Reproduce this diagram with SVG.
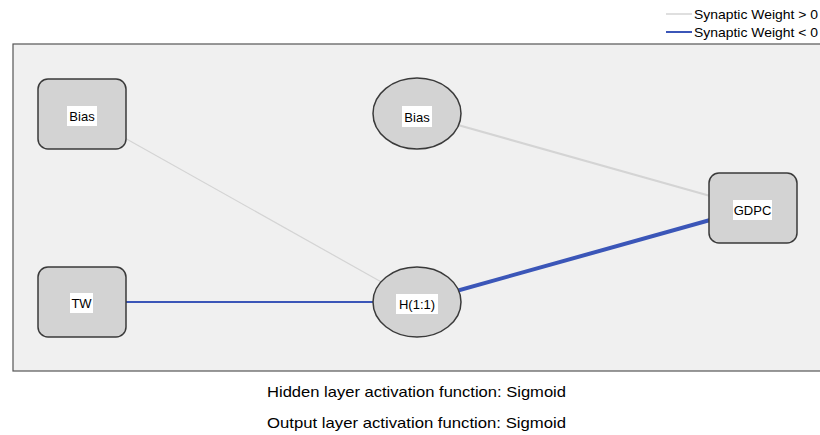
<svg xmlns="http://www.w3.org/2000/svg" width="820" height="435" viewBox="0 0 820 435">
<style>
text{font-family:"Liberation Sans",Arial,sans-serif;fill:#000}
.node{fill:#d3d3d3;stroke:#3a3a3a;stroke-width:1.5}
.lbl{fill:#fff}
.nl{font-size:13px;text-anchor:middle}
.pos{stroke:#d4d4d4;fill:none}
.neg{stroke:#3b56b8;fill:none}
</style>
<rect x="0" y="0" width="820" height="435" fill="#fff"/>
<g id="legend">
<line class="pos" x1="666" y1="14" x2="692" y2="14" stroke-width="1.5"/>
<line class="neg" x1="666" y1="32" x2="692" y2="32" stroke-width="2"/>
<text x="694" y="19" font-size="13" textLength="124" lengthAdjust="spacingAndGlyphs">Synaptic Weight &gt; 0</text>
<text x="694" y="37" font-size="13" textLength="124" lengthAdjust="spacingAndGlyphs">Synaptic Weight &lt; 0</text>
</g>
<rect id="panel" x="13" y="44" width="820" height="327" fill="#f0f0f0" stroke="#555" stroke-width="1.2"/>
<g id="connectors">
<line class="pos" x1="82" y1="114" x2="417" y2="302" stroke-width="1.2"/>
<line class="pos" x1="417" y1="113.5" x2="753" y2="208" stroke-width="2"/>
<line class="neg" x1="82" y1="302" x2="417" y2="302" stroke-width="2"/>
<line class="neg" x1="417" y1="302" x2="753" y2="208" stroke-width="4"/>
</g>
<g id="bias-input">
<rect class="node" x="38" y="79" width="88" height="70" rx="10"/>
<rect class="lbl" x="67" y="106" width="30" height="20"/>
<text class="nl" x="82" y="121">Bias</text>
</g>
<g id="tw">
<rect class="node" x="38" y="267" width="88" height="70" rx="10"/>
<rect class="lbl" x="70" y="293" width="23" height="20"/>
<text class="nl" x="81.5" y="308">TW</text>
</g>
<g id="bias-hidden">
<ellipse class="node" cx="417" cy="113.5" rx="44" ry="35.5"/>
<rect class="lbl" x="402" y="106" width="30" height="21"/>
<text class="nl" x="417" y="121.5">Bias</text>
</g>
<g id="h11">
<ellipse class="node" cx="417" cy="302" rx="44" ry="35"/>
<rect class="lbl" x="396" y="294" width="42" height="20"/>
<text class="nl" x="417" y="309">H(1:1)</text>
</g>
<g id="gdpc">
<rect class="node" x="709" y="173" width="88" height="70" rx="10"/>
<rect class="lbl" x="733" y="200" width="39" height="20"/>
<text class="nl" x="752.5" y="215">GDPC</text>
</g>
<text x="267" y="397" font-size="15" textLength="299" lengthAdjust="spacingAndGlyphs">Hidden layer activation function: Sigmoid</text>
<text x="267" y="428" font-size="15" textLength="299" lengthAdjust="spacingAndGlyphs">Output layer activation function: Sigmoid</text>
</svg>
